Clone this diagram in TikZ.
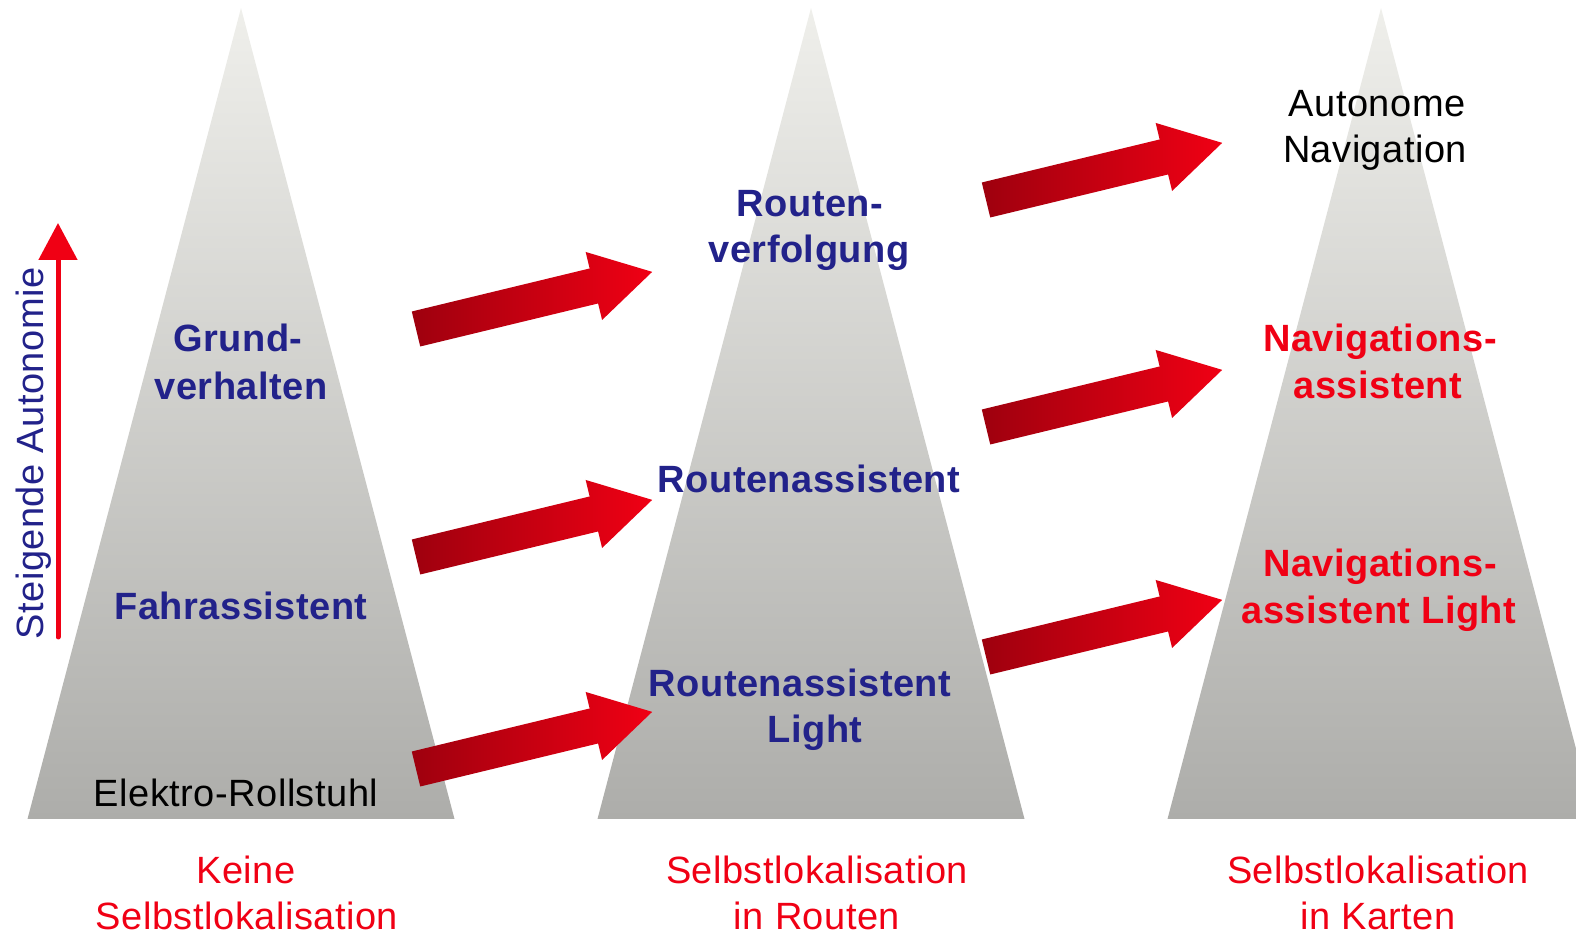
\documentclass[tikz,border=0pt]{standalone}
\usepackage{fontspec}
\setmainfont{Liberation Sans}[LetterSpace=1.3]
\usetikzlibrary{arrows.meta}
\definecolor{navy}{HTML}{22228A}
\definecolor{brightred}{HTML}{F00014}
\definecolor{darkred}{HTML}{9E000E}
\definecolor{pyrtop}{HTML}{EFEFEB}
\definecolor{pyrbot}{HTML}{ADADAA}
\tikzset{
  txt/.style={anchor=base, inner sep=0pt, font=\fontsize{38}{47}\selectfont},
  level/.style={txt, font=\fontsize{38}{47}\selectfont\bfseries, text=navy},
  levelred/.style={txt, font=\fontsize{38}{47}\selectfont\bfseries, text=brightred},
  plain/.style={txt, text=black},
  basis/.style={txt, text=brightred},
  pyramid/.style={top color=pyrtop, bottom color=pyrbot, draw=none},
  bigarrow/.pic={
    \shade[left color=darkred, right color=brightred]
      (0,18) -- (183,18) -- (183,35) -- (243,0) -- (183,-35) -- (183,-18) -- (0,-18) -- cycle;
  },
}
\begin{document}
\begin{tikzpicture}[x=1pt, y=1pt]
  \useasboundingbox (0,0) rectangle (1576,936);
  \clip (0,0) rectangle (1576,936);

  % three pyramids
  \foreach \cx/\nm in {241/one, 811/two, 1381/three} {
    \coordinate (apex-\nm) at (\cx,928);
    \shade[pyramid] (\cx-213.5,117) -- (apex-\nm) -- (\cx+213.5,117) -- cycle;
  }

  % transition arrows between the columns
  \coordinate (t1) at (416,607);
  \coordinate (t2) at (416,379);
  \coordinate (t3) at (416,167);
  \coordinate (t4) at (986,736);
  \coordinate (t5) at (986,509);
  \coordinate (t6) at (986,279);
  \foreach \t in {t1,t2,t3,t4,t5,t6}
    \pic[rotate=13.6] (arr-\t) at (\t) {bigarrow};

  % autonomy axis
  \coordinate (axlow) at (58,299);
  \coordinate (axhigh) at (58,713);
  \draw[brightred, line width=5pt, line cap=round,
        -{Triangle[width=38pt, length=37pt]}] (axlow) -- (axhigh);
  \node[txt, text=navy, rotate=90] (axlabel) at (43,482.5) {Steigende Autonomie};

  % column 1
  \node[level] (grund1) at (238,584) {Grund-};
  \node[level] (grund2) at (241,536) {verhalten};
  \node[level] (fahr) at (241,316) {Fahrassistent};
  \node[plain] (rollstuhl) at (236,129) {Elektro-Rollstuhl};
  \node[basis] (b1a) at (246,52) {Keine};
  \node[basis] (b1b) at (247,6) {Selbstlokalisation};

  % column 2
  \node[level] (rv1) at (810,719) {Routen-};
  \node[level] (rv2) at (809,673) {verfolgung};
  \node[level] (ra) at (809,443) {Routenassistent};
  \node[level] (ral1) at (800,239) {Routenassistent};
  \node[level] (ral2) at (815,193) {Light};
  \node[basis] (b2a) at (817,52) {Selbstlokalisation};
  \node[basis] (b2b) at (817,6) {in Routen};

  % column 3
  \node[plain] (an1) at (1377,819) {Autonome};
  \node[plain] (an2) at (1375,773) {Navigation};
  \node[levelred] (na1) at (1380,584) {Navigations-};
  \node[levelred] (na2) at (1378,537) {assistent};
  \node[levelred] (nal1) at (1380,359) {Navigations-};
  \node[levelred] (nal2) at (1379,312) {assistent Light};
  \node[basis] (b3a) at (1378,52) {Selbstlokalisation};
  \node[basis] (b3b) at (1378,6) {in Karten};
\end{tikzpicture}
\end{document}
